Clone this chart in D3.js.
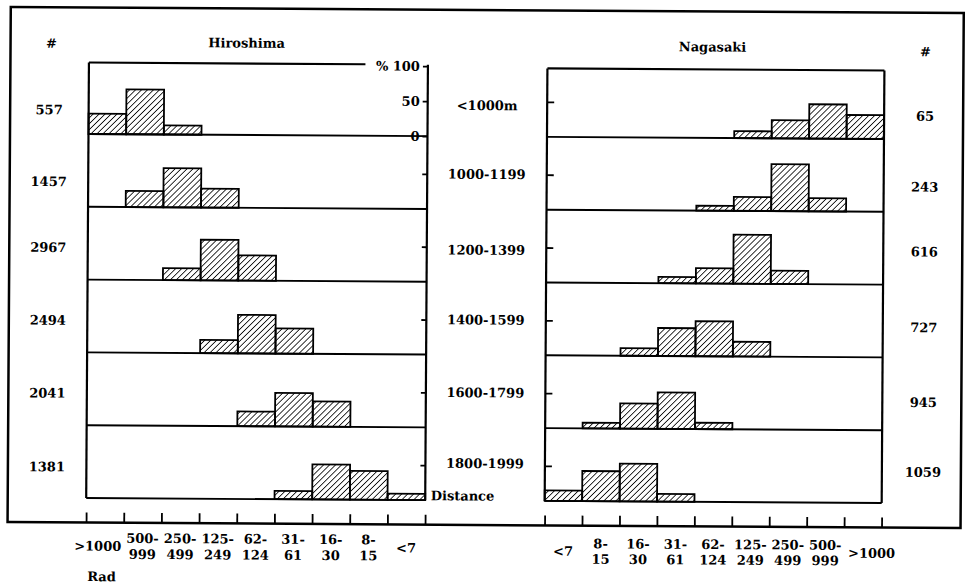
<!DOCTYPE html>
<html>
<head>
<meta charset="utf-8">
<script src="https://cdn.jsdelivr.net/npm/d3@7"></script>
<style>
  body { margin: 0; background: #fff; }
  text { font-family: "DejaVu Serif", serif; font-weight: bold; font-size: 13px; fill: #000; }
</style>
</head>
<body>
<svg id="chart"></svg>
<script>
const outerWidth = 966;
const outerHeight = 587;

// distance rows (top to bottom)
const distances = ["<1000m", "1000-1199", "1200-1399", "1400-1599", "1600-1799", "1800-1999"];
const hiroCounts = [557, 1457, 2967, 2494, 2041, 1381];
const nagaCounts = [65, 243, 616, 727, 945, 1059];

// dose bins (Rad)
const hiroBins = [">1000", "500-999", "250-499", "125-249", "62-124", "31-61", "16-30", "8-15", "<7"];
const nagaBins = ["<7", "8-15", "16-30", "31-61", "62-124", "125-249", "250-499", "500-999", ">1000"];

// percent per bin, one row per distance
const hiroPct = [
  [29, 64, 13, 0, 0, 0, 0, 0, 0],
  [0, 23, 56, 27, 0, 0, 0, 0, 0],
  [0, 0, 17, 58, 36, 0, 0, 0, 0],
  [0, 0, 0, 19, 55, 36, 0, 0, 0],
  [0, 0, 0, 0, 21, 48, 36, 0, 0],
  [0, 0, 0, 0, 0, 12, 50, 41, 9]
];
const nagaPct = [
  [0, 0, 0, 0, 0, 10, 26, 49, 34],
  [0, 0, 0, 0, 7, 20, 67, 19, 0],
  [0, 0, 0, 9, 22, 70, 19, 0, 0],
  [0, 0, 11, 40, 50, 21, 0, 0, 0],
  [0, 8, 36, 52, 9, 0, 0, 0, 0],
  [15, 43, 54, 11, 0, 0, 0, 0, 0]
];

// layout
const rowBase = d3.range(6).map(i => 136.5 + 72.8 * i);
const rowH = 70;
const hx = d3.scaleLinear().domain([0, 9]).range([87.5, 426.5]);
const nx = d3.scaleLinear().domain([0, 9]).range([546, 883]);
const rowScale = r => d3.scaleLinear().domain([0, 100]).range([rowBase[r], rowBase[r] - rowH]);
const leftDy = [-24, -25, -32, -32, -32, -31];
const midDy = [-31, -35, -32, -35, -35, -37];
const rightDy = [-23, -25, -33, -30, -28, -31];

var svg = d3.select("#chart")
  .attr("width", outerWidth)
  .attr("height", outerHeight);

var defs = svg.append("defs");
defs.append("pattern")
  .attr("id", "hatch")
  .attr("patternUnits", "userSpaceOnUse")
  .attr("width", 4.2).attr("height", 4.2)
  .attr("patternTransform", "rotate(45)")
  .append("line")
  .attr("x1", 0).attr("y1", 0).attr("x2", 0).attr("y2", 4.2)
  .attr("stroke", "black").attr("stroke-width", 1.6);

// the scan is tilted a little
var g = svg.append("g").attr("transform", "rotate(0.36,483,293)");

g.append("rect")
  .attr("x", 9).attr("y", 10).attr("width", 953).attr("height", 515)
  .attr("fill", "none").attr("stroke", "black").attr("stroke-width", 2.5);

function line(x1, y1, x2, y2, w) {
  g.append("line").attr("x1", x1).attr("y1", y1).attr("x2", x2).attr("y2", y2)
    .attr("stroke", "black").attr("stroke-width", w || 1.8);
}

function drawPanel(x, pct, top, topEnd) {
  var lastBase = rowBase[rowBase.length - 1];
  line(x(0), top, x(0), lastBase, 2.2);
  line(x(0), top, topEnd, top, 2.2);
  line(x(9), top, x(9), lastBase, 2.2);
  rowBase.forEach(b => line(x(0), b, x(9), b, 1.9));

  pct.forEach((vals, r) => {
    var y = rowScale(r);
    g.append("g").selectAll("rect")
      .data(vals.map((v, i) => ({v: v, i: i})).filter(d => d.v > 0))
      .enter()
      .append("rect")
      .attr("x", d => x(d.i))
      .attr("width", d => x(d.i + 1) - x(d.i))
      .attr("y", d => y(d.v))
      .attr("height", d => rowBase[r] - y(d.v))
      .attr("fill", "url(#hatch)")
      .attr("stroke", "black").attr("stroke-width", 1.8);
  });
}

drawPanel(hx, hiroPct, 65, 364);
drawPanel(nx, nagaPct, 68, nx(9));

// percent ticks
rowBase.forEach((b, r) => {
  var y = rowScale(r);
  var ha = g.append("g").attr("transform", "translate(" + hx(9) + ",0)")
    .call(d3.axisLeft(y)
      .tickValues(r === 0 ? [0, 50, 100] : [50])
      .tickSize(5).tickPadding(3)
      .tickFormat(d => r === 0 ? (d === 100 ? "% 100" : d) : ""));
  ha.select(".domain").remove();
  ha.selectAll("line").attr("stroke-width", 1.8);
  ha.selectAll("text").attr("font-family", null).attr("font-size", null);

  var na = g.append("g").attr("transform", "translate(" + nx(0) + ",0)")
    .call(d3.axisRight(y).tickValues([50]).tickSize(7).tickFormat(""));
  na.select(".domain").remove();
  na.selectAll("line").attr("stroke-width", 1.8);
});

// dose axes along the bottom border
[[hx, hiroBins, 540.5, 556.5], [nx, nagaBins, 543, 558.5]].forEach(([x, bins, l1, l2]) => {
  var ax = g.append("g").attr("transform", "translate(0,525)")
    .call(d3.axisTop(x).tickValues(d3.range(10)).tickSize(10).tickFormat(""));
  ax.select(".domain").remove();
  ax.selectAll("line").attr("stroke-width", 1.8);

  bins.forEach((b, i) => {
    var cx = x(i + 0.5);
    var parts = b.split("-");
    if (parts.length === 2) {
      g.append("text").attr("x", cx).attr("y", l1).attr("dy", "0.35em")
        .attr("text-anchor", "middle").text(parts[0] + "-");
      g.append("text").attr("x", cx).attr("y", l2).attr("dy", "0.35em")
        .attr("text-anchor", "middle").text(parts[1]);
    } else {
      var off = b === ">1000" ? (x === hx ? -7 : 9) : 0;
      g.append("text").attr("x", cx + off).attr("y", (l1 + l2) / 2).attr("dy", "0.35em")
        .attr("text-anchor", "middle").text(b);
    }
  });
});

// titles and row labels
g.append("text").attr("x", 50).attr("y", 46).attr("dy", "0.35em").attr("text-anchor", "middle").text("#");
g.append("text").attr("x", 245).attr("y", 44.5).attr("dy", "0.35em").attr("text-anchor", "middle").text("Hiroshima");
g.append("text").attr("x", 711).attr("y", 45.5).attr("dy", "0.35em").attr("text-anchor", "middle").text("Nagasaki");
g.append("text").attr("x", 924).attr("y", 49).attr("dy", "0.35em").attr("text-anchor", "middle").text("#");

hiroCounts.forEach((c, r) => {
  g.append("text").attr("x", 48).attr("y", rowBase[r] + leftDy[r]).attr("dy", "0.35em")
    .attr("text-anchor", "middle").text(c);
});
distances.forEach((d, r) => {
  g.append("text").attr("x", 486).attr("y", rowBase[r] + midDy[r]).attr("dy", "0.35em")
    .attr("text-anchor", "middle").text(d);
});
nagaCounts.forEach((c, r) => {
  g.append("text").attr("x", 924).attr("y", rowBase[r] + rightDy[r]).attr("dy", "0.35em")
    .attr("text-anchor", "middle").text(c);
});

g.append("text").attr("x", 432).attr("y", 496).attr("dy", "0.35em").text("Distance");
g.append("text").attr("x", 89).attr("y", 579).attr("dy", "0.35em").text("Rad");
</script>
</body>
</html>
